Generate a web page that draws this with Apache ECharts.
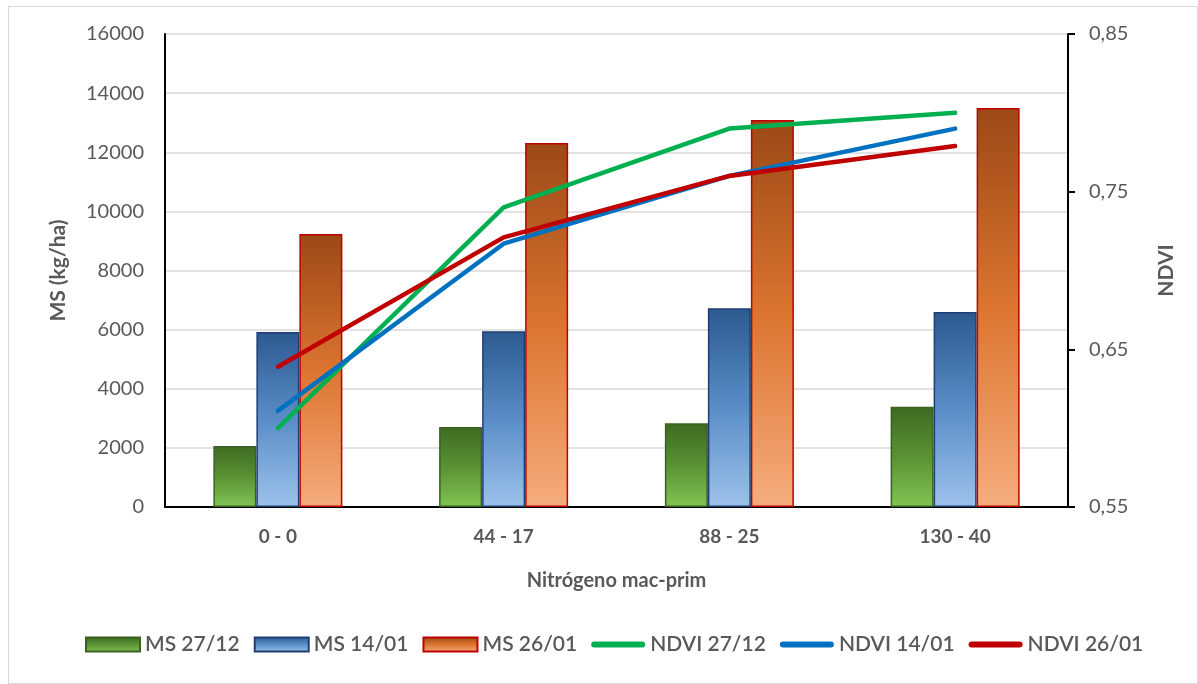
<!DOCTYPE html>
<html>
<head>
<meta charset="utf-8">
<script src="https://cdn.jsdelivr.net/npm/echarts@6/dist/echarts.min.js"></script>
<style>
  html, body { margin: 0; padding: 0; background: #fff; }
  #frame { position: absolute; left: 8px; top: 6px; width: 1190px; height: 678px; border: 1px solid #d9d9d9; box-sizing: border-box; }
  #chart { position: absolute; left: 0; top: 0; width: 1198px; height: 684px; }
</style>
</head>
<body>
<div id="frame"></div>
<div id="chart"></div>
<script>
// Nitrogen treatments (macollaje - primordio)
const categories = ['0 - 0', '44 - 17', '88 - 25', '130 - 40'];

// Dry matter (kg/ha) per sampling date
const ms2712 = [2060, 2710, 2830, 3390];
const ms1401 = [5920, 5945, 6725, 6600];
const ms2601 = [9235, 12315, 13090, 13495];

// NDVI per sampling date
const ndvi2712 = [0.600, 0.740, 0.790, 0.800];
const ndvi1401 = [0.611, 0.717, 0.760, 0.790];
const ndvi2601 = [0.639, 0.721, 0.760, 0.779];

// Right axis tick values
const ndviTicks = [0.55, 0.65, 0.75, 0.85];

const fontFamily = 'Lato, "Open Sans", sans-serif';
const textGray = '#595959';

function vgrad(top, mid, bottom) {
  return new echarts.graphic.LinearGradient(0, 0, 0, 1, [
    { offset: 0, color: top },
    { offset: 0.5, color: mid },
    { offset: 1, color: bottom }
  ]);
}

const barStyles = {
  green: { color: vgrad('#3d6a21', '#5a9234', '#80c452'), borderColor: '#3b6120', borderWidth: 1.5 },
  blue: { color: vgrad('#2c5990', '#5a8dc8', '#9cc2ea'), borderColor: '#1f3f73', borderWidth: 1.5 },
  orange: { color: vgrad('#9b4916', '#dc7430', '#f5ad7c'), borderColor: '#c00000', borderWidth: 1.5 }
};

function barSeries(name, data, style) {
  return {
    name, type: 'bar', data, yAxisIndex: 0,
    barWidth: 43, barGap: '0%',
    itemStyle: style
  };
}

function lineSeries(name, data, color) {
  return {
    name, type: 'line', data, yAxisIndex: 1,
    symbol: 'none', smooth: false,
    lineStyle: { color, width: 4.5, cap: 'round' },
    itemStyle: { color },
    z: 5
  };
}

// thin rounded bar used as the legend marker of the NDVI lines
const lineIcon = 'path://M3,0 L51,0 A3,3 0 0 1 51,6 L3,6 A3,3 0 0 1 3,0 Z';

const chart = echarts.init(document.getElementById('chart'), null, { renderer: 'canvas' });

chart.setOption({
  animation: false,
  backgroundColor: 'transparent',
  grid: { left: 165, right: 130, top: 34, bottom: 177, containLabel: false },
  legend: {
    bottom: 24,
    left: 80,
    itemWidth: 54,
    itemHeight: 14,
    itemGap: 14,
    textStyle: { fontFamily, fontSize: 21, color: textGray, fontWeight: 600 },
    data: [
      { name: 'MS 27/12', icon: 'rect' },
      { name: 'MS 14/01', icon: 'rect' },
      { name: 'MS 26/01', icon: 'rect' },
      { name: 'NDVI 27/12', icon: lineIcon },
      { name: 'NDVI 14/01', icon: lineIcon },
      { name: 'NDVI 26/01', icon: lineIcon }
    ]
  },
  xAxis: {
    type: 'category',
    data: categories,
    name: 'Nitrógeno mac-prim',
    nameLocation: 'middle',
    nameGap: 64,
    nameTextStyle: { fontFamily, fontSize: 20, fontWeight: 'bold', color: textGray },
    axisLine: { lineStyle: { color: '#000', width: 2 } },
    axisTick: { show: false },
    axisLabel: { fontFamily, fontSize: 19, fontWeight: 'bold', color: textGray, margin: 20 }
  },
  yAxis: [
    {
      type: 'value',
      min: 0, max: 16000, interval: 2000,
      name: 'MS (kg/ha)',
      nameLocation: 'middle',
      nameRotate: 90,
      nameGap: 96,
      nameTextStyle: { fontFamily, fontSize: 21, fontWeight: 'bold', color: textGray },
      axisLine: { show: true, lineStyle: { color: '#000', width: 2 } },
      axisTick: { show: false },
      axisLabel: { fontFamily, fontSize: 20, color: textGray, margin: 21, formatter: v => String(v) },
      splitLine: { show: true, lineStyle: { color: '#d9d9d9', width: 1.5 } }
    },
    {
      type: 'value',
      min: 0.55, max: 0.85,
      position: 'right',
      name: 'NDVI',
      nameLocation: 'middle',
      nameRotate: 90,
      nameGap: 88,
      nameTextStyle: { fontFamily, fontSize: 21, fontWeight: 'bold', color: textGray },
      axisLine: { show: true, lineStyle: { color: '#000', width: 2 } },
      axisTick: { show: true, length: 7, inside: false, lineStyle: { color: '#000', width: 2 }, customValues: ndviTicks },
      axisLabel: {
        fontFamily, fontSize: 20, color: textGray, margin: 21,
        customValues: ndviTicks,
        formatter: v => v.toFixed(2).replace('.', ',')
      },
      splitLine: { show: false }
    }
  ],
  series: [
    barSeries('MS 27/12', ms2712, barStyles.green),
    barSeries('MS 14/01', ms1401, barStyles.blue),
    barSeries('MS 26/01', ms2601, barStyles.orange),
    lineSeries('NDVI 27/12', ndvi2712, '#00b050'),
    lineSeries('NDVI 14/01', ndvi1401, '#0070c0'),
    lineSeries('NDVI 26/01', ndvi2601, '#c00000')
  ]
});
</script>
</body>
</html>
